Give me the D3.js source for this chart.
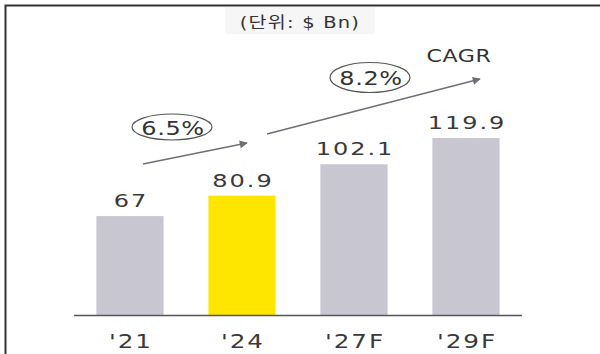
<!DOCTYPE html>
<html><head><meta charset="utf-8">
<script src="https://cdn.jsdelivr.net/npm/d3@7"></script>
<style>html,body{margin:0;padding:0;background:#fff;}svg{display:block;}</style>
</head><body><svg id="c" width="600" height="354"></svg>
<script>
const categories = ["'21", "'24", "'27F", "'29F"];
const values = [67, 80.9, 102.1, 119.9];
const highlight = ["'24"];
const cagrLabels = ["6.5%", "8.2%"];
const title = "(단위: $ Bn)";
const cagrTitle = "CAGR";

const svg = d3.select("#c");
const font = "'DejaVu Sans','Noto Sans CJK KR',sans-serif";

function wideText(sel, x, y, size, sx, ls, fill, txt) {
  return sel.append("text").attr("transform", `translate(${x},${y}) scale(${sx},1)`)
    .attr("text-anchor","middle").attr("font-family",font).attr("font-size",size)
    .attr("letter-spacing",ls).attr("fill",fill).text(txt);
}

// frame
svg.append("path").attr("d","M5.5,354 V5.5 H600").attr("fill","none").attr("stroke","#333").attr("stroke-width",2);

const x = d3.scaleBand().domain(categories).range([74, 522]).paddingInner(0.4).paddingOuter(0.2);
const y = d3.scaleLinear().domain([0, 140]).range([315, 315 - 140*1.476]);

// title
svg.append("rect").attr("x",225).attr("y",7).attr("width",150).attr("height",27).attr("fill","#f6f6f6");
wideText(svg, 300, 28, 16, 1.22, 1, "#333", title);

// bars
svg.selectAll("rect.bar").data(values).enter().append("rect").attr("class","bar")
  .attr("x",(d,i)=>x(categories[i])).attr("width",x.bandwidth())
  .attr("y",d=>y(d)).attr("height",d=>y(0)-y(d))
  .attr("fill",(d,i)=>highlight.includes(categories[i])?"#ffe600":"#c8c6d1");

// value labels
values.forEach((d,i)=>{
  wideText(svg, x(categories[i])+x.bandwidth()/2+1, y(d)-9, 18.5, 1.3, 1.5, "#3a3a3a", d);
});

// baseline axis
const ax = svg.append("g").attr("transform",`translate(0,${y(0)})`)
  .call(d3.axisBottom(x).tickSize(0).tickPadding(18));
ax.select(".domain").attr("d","M74,0.5H522").attr("stroke","#555").attr("stroke-width",1.5);
ax.selectAll(".tick text").each(function(t){
  const g = d3.select(this.parentNode);
  d3.select(this).remove();
  wideText(g, 1, 33, 19, 1.3, 1.5, "#3a3a3a", t);
});

// arrows
const defs = svg.append("defs");
defs.append("marker").attr("id","ah").attr("viewBox","0 0 10 10").attr("refX",9).attr("refY",5)
  .attr("markerWidth",10).attr("markerHeight",8).attr("markerUnits","userSpaceOnUse").attr("orient","auto")
  .append("path").attr("d","M0,0 L10,5 L0,10 z").attr("fill","#6f6f78");
const c0 = x(categories[0]) + x.bandwidth()/2, c1 = x(categories[1]) + x.bandwidth()/2;
const c3 = x(categories[3]) + x.bandwidth()/2;
const arrows = [
  {x1:c0+13, y1:164, x2:c1+5, y2:143},
  {x1:c1+25, y1:134, x2:c3+14, y2:79}
];
svg.selectAll("line.arr").data(arrows).enter().append("line").attr("class","arr")
  .attr("x1",d=>d.x1).attr("y1",d=>d.y1).attr("x2",d=>d.x2).attr("y2",d=>d.y2)
  .attr("stroke","#6f6f78").attr("stroke-width",1.6).attr("marker-end","url(#ah)");

// CAGR ellipses
const ell = [{cx:172, cy:127, rx:40, ry:13}, {cx:370, cy:77.5, rx:40, ry:15}];
ell.forEach((e,i)=>{
  svg.append("ellipse").attr("cx",e.cx).attr("cy",e.cy).attr("rx",e.rx).attr("ry",e.ry)
    .attr("fill","none").attr("stroke","#555").attr("stroke-width",1.2);
  wideText(svg, e.cx+1, e.cy+7.5, 20, 1.2, 0.5, "#333", cagrLabels[i]);
});
wideText(svg, 459, 62, 17, 1.3, 0.5, "#333", cagrTitle);
</script></body></html>
